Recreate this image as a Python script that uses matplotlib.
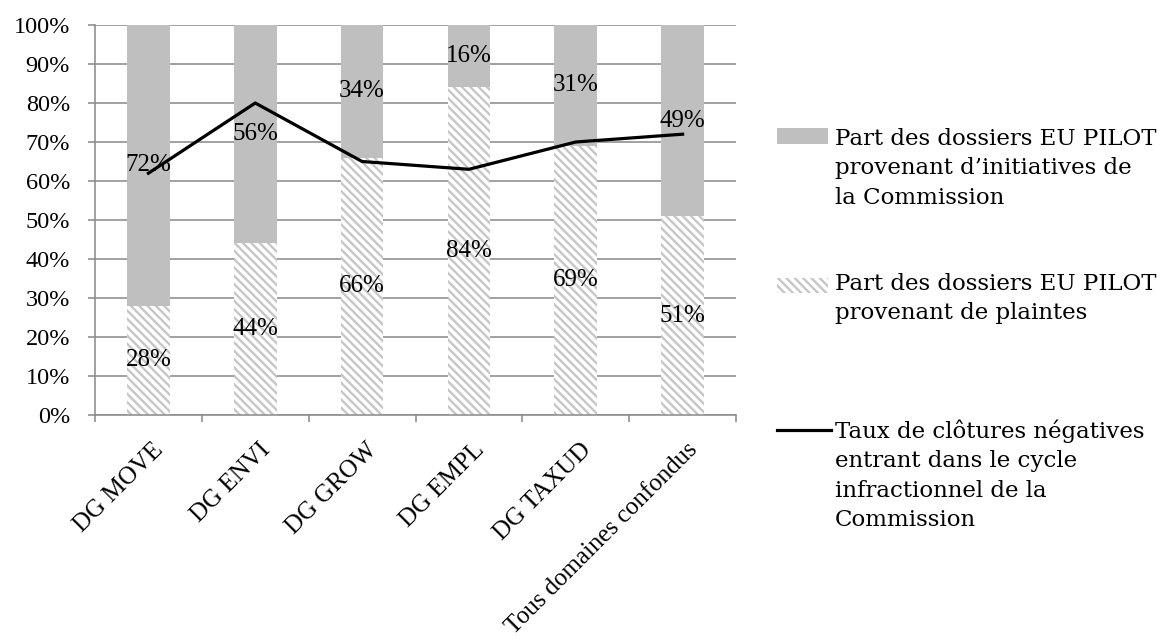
import matplotlib
matplotlib.use("Agg")
import matplotlib.pyplot as plt
from matplotlib.patches import Rectangle
from matplotlib.lines import Line2D
from matplotlib.transforms import ScaledTranslation
import numpy as np

categories = ["DG MOVE", "DG ENVI", "DG GROW", "DG EMPL", "DG TAXUD", "Tous domaines confondus"]
plaintes = [28, 44, 66, 84, 69, 51]
initiatives = [72, 56, 34, 16, 31, 49]
clotures = [62, 80, 65, 63, 70, 72]
yticks = [0, 10, 20, 30, 40, 50, 60, 70, 80, 90, 100]

legend_lines = [
    ["Part des dossiers EU PILOT", "provenant d\u2019initiatives de", "la Commission"],
    ["Part des dossiers EU PILOT", "provenant de plaintes"],
    ["Taux de cl\u00f4tures n\u00e9gatives", "entrant dans le cycle", "infractionnel de la", "Commission"],
]

plt.rcParams['font.family'] = ['Liberation Serif', 'DejaVu Serif']
plt.rcParams['hatch.linewidth'] = 1.7
plt.rcParams['hatch.color'] = '#c6c6c6'

W, H = 1163, 641
fig = plt.figure(figsize=(W / 100, H / 100), dpi=100)
ax = fig.add_axes([95 / W, 1 - 415 / H, 641 / W, 390 / H])

x = np.arange(len(categories))
w = 0.40
solid = '#bfbfbf'
gridc = '#888888'
hatch = '\\\\\\\\'
ax.bar(x, plaintes, w, color='white', edgecolor='#c6c6c6', linewidth=0, hatch=hatch, zorder=2)
ax.bar(x, initiatives, w, bottom=plaintes, color=solid, linewidth=0, zorder=2)
ax.plot(x, clotures, color='black', linewidth=2.3, zorder=4)

fs = 18
for i in range(len(x)):
    ax.text(x[i], plaintes[i] / 2, f"{plaintes[i]}%", ha='center', va='center', fontsize=fs, zorder=5)
    ax.text(x[i], plaintes[i] + initiatives[i] / 2, f"{initiatives[i]}%", ha='center', va='center', fontsize=fs, zorder=5)

ax.set_xlim(-0.5, len(x) - 0.5)
ax.set_ylim(0, 100)
ax.set_yticks(yticks)
ax.set_yticklabels([f"{v}%" for v in yticks], fontsize=17.5)
ax.yaxis.grid(True, color=gridc, linewidth=1.1, zorder=0)
ax.set_axisbelow(True)
ax.set_xticks(x)
ax.set_xticklabels(categories, rotation=45, ha='right', va='top', rotation_mode='anchor', fontsize=fs)
ax.tick_params(axis='x', length=0, pad=17)
offset = ScaledTranslation(4 / 100, 0, fig.dpi_scale_trans)
for lab in ax.get_xticklabels():
    lab.set_transform(lab.get_transform() + offset)
ax.set_xticks(np.arange(-0.5, len(x)), minor=True)
ax.tick_params(axis='x', which='minor', length=5, color=gridc, width=1.1)
ax.tick_params(axis='y', length=5, color=gridc, width=1.1, pad=13)
for s in ['top', 'right']:
    ax.spines[s].set_visible(False)
for s in ['left', 'bottom']:
    ax.spines[s].set_color(gridc)
    ax.spines[s].set_linewidth(1.1)

# Legend (manual)
def fx(px):
    return px / W
def fy(py):
    return 1 - py / H

lfs = 16.5
lfam = ['DejaVu Serif']
tx = 835
step = 29.5
first_baselines = [145, 290, 438]

fig.add_artist(Rectangle((fx(777), fy(144)), fx(828 - 777), 16 / H, transform=fig.transFigure,
                         facecolor=solid, edgecolor='none'))
fig.add_artist(Rectangle((fx(777), fy(293)), fx(828 - 777), 15 / H, transform=fig.transFigure,
                         facecolor='white', edgecolor='#c6c6c6', linewidth=0, hatch=hatch))
fig.add_artist(Line2D([fx(777), fx(831)], [fy(430), fy(430)], transform=fig.transFigure,
                      color='black', linewidth=2.3))

for lines, b0 in zip(legend_lines, first_baselines):
    for k, t in enumerate(lines):
        fig.text(fx(tx), fy(b0 + k * step), t, fontsize=lfs, family=lfam, va='baseline', ha='left')

fig.savefig("out.png", dpi=100)
